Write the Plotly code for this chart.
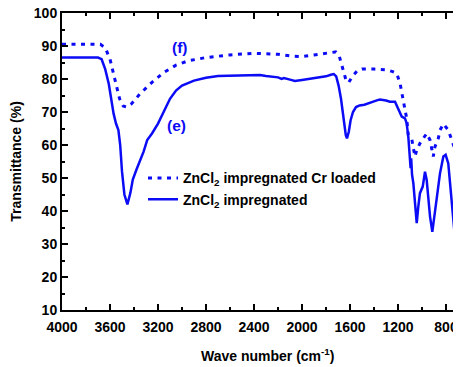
import plotly.graph_objects as go

# Dotted curve (f): ZnCl2 impregnated Cr loaded
wn_f = [4000, 3800, 3680, 3640, 3600, 3560, 3520, 3490, 3460, 3420, 3350, 3250, 3150, 3050, 2950,
        2800, 2600, 2400, 2300, 2200, 2100, 2000, 1900, 1800, 1720, 1690, 1660, 1630, 1610, 1580,
        1540, 1500, 1400, 1300, 1250, 1211, 1183, 1169, 1156, 1142, 1128, 1114, 1086, 1072, 1058,
        1044, 1017, 989, 961, 933, 919, 906, 892, 864, 850, 822, 781, 753, 725, 697, 675]
t_f = [90.5, 90.5, 90.5, 89.5, 86, 80, 74, 71.8, 71.5, 72.5, 75.5, 79, 82, 84.2, 85.5,
       86.5, 87.3, 87.8, 87.7, 87.5, 87, 86.8, 87.3, 87.8, 88.2, 87, 83, 79.2, 79, 80.8,
       82.5, 83, 83, 82.8, 82.3, 81.7, 78.7, 76.2, 73.6, 71.1, 68.1, 63, 62, 59, 56.5,
       58.5, 60.5, 62, 63.5, 61.5, 58.5, 56.5, 59.5, 62, 64.5, 66.4, 64.5, 61.5, 58.7, 59, 60]

# Solid curve (e): ZnCl2 impregnated
wn_e = [4000, 3800, 3700, 3670, 3640, 3610, 3590, 3570, 3550, 3530, 3515, 3500, 3480, 3455, 3430,
        3410, 3380, 3350, 3320, 3290, 3250, 3200, 3150, 3100, 3050, 3000, 2900, 2800, 2700, 2600,
        2500, 2400, 2350, 2300, 2250, 2200, 2170, 2150, 2100, 2060, 2000, 1950, 1900, 1850, 1800,
        1760, 1735, 1715, 1695, 1675, 1655, 1635, 1625, 1610, 1595, 1575, 1550, 1520, 1480, 1440,
        1400, 1370, 1350, 1300, 1267, 1225, 1197, 1169, 1142, 1128, 1114, 1100, 1095, 1090, 1083,
        1072, 1058, 1044, 1031, 1017, 994, 975, 961, 947, 933, 914, 897, 878, 850, 822, 803, 781,
        761, 744, 725, 706, 683, 675]
t_e = [86.5, 86.5, 86.5, 86, 83, 78.5, 74, 69.5, 66.5, 64.5, 60, 52, 45, 42, 45.5,
       49.5, 52.5, 55, 58, 61.5, 63.5, 66.5, 70.5, 74, 76.5, 78, 79.5, 80.4, 80.9, 81,
       81, 81.2, 81.2, 80.9, 80.6, 80.5, 80, 80.3, 79.8, 79.4, 79.7, 80, 80.2, 80.4, 80.8,
       81.3, 81.5, 80.8, 78, 74, 68, 63, 62, 64, 67.5, 70, 71.5, 72, 72.2, 72.6,
       73.2, 73.6, 73.8, 73.5, 73.1, 73.1, 71.1, 68.6, 68.1, 66.6, 62.5, 54.4, 53, 56, 51,
       48.4, 41.3, 36.3, 41.3, 45.4, 47.4, 51.9, 49.4, 44.3, 38.3, 33.7, 38.3, 44.3, 51.4, 56.5, 57, 54.4,
       46.4, 38.3, 31.7, 36.3, 42.3, 44]

x_ticks = [4000, 3600, 3200, 2800, 2400, 2000, 1600, 1200, 800]
names = ["ZnCl<sub>2</sub> impregnated Cr loaded", "ZnCl<sub>2</sub> impregnated"]
labels = ["(f)", "(e)"]
label_pos = [(3017, 89.4), (3050, 66.0)]

blue = "#0b0bf5"
font_family = "Arial, Liberation Sans, sans-serif"

fig = go.Figure()
fig.add_trace(go.Scatter(x=wn_f, y=t_f, mode="lines", name=names[0],
                         line=dict(color=blue, width=3, dash="4px,5.5px")))
fig.add_trace(go.Scatter(x=wn_e, y=t_e, mode="lines", name=names[1],
                         line=dict(color=blue, width=2.5)))

for lab, (lx, ly) in zip(labels, label_pos):
    fig.add_annotation(x=lx, y=ly, text=lab, showarrow=False,
                       font=dict(family=font_family, size=15.5, color=blue, weight="bold"))

fig.add_annotation(xref="paper", yref="paper", x=0.514, y=-0.152, yanchor="middle",
                   text="Wave number (cm<sup>-1</sup>)", showarrow=False,
                   font=dict(family=font_family, size=14, color="black", weight="bold"))

axis_common = dict(showline=True, linecolor="black", linewidth=2, ticks="inside",
                   ticklen=6, tickwidth=2, tickcolor="black", showgrid=False, zeroline=False,
                   ticklabeloverflow="allow",
                   tickfont=dict(family=font_family, size=14, color="black", weight="bold"))

# Page has an 8px body margin, so the figure is 8px smaller than the window
fig.update_layout(
    width=453, height=359,
    margin=dict(l=54, r=0, t=5, b=57, autoexpand=False),
    paper_bgcolor="white", plot_bgcolor="white",
    font=dict(family=font_family, size=14, color="black", weight="bold"),
    xaxis=dict(range=[4000, 675], tickvals=x_ticks, mirror="ticks", ticklabelstandoff=3,
               minor=dict(ticks="inside", ticklen=3, tickwidth=1.5, dtick=200, tick0=0, tickcolor="black"),
               **axis_common),
    yaxis=dict(range=[10, 100], dtick=10, tick0=0,
               minor=dict(ticks="inside", ticklen=3, tickwidth=1.5, dtick=5, tick0=0, tickcolor="black"),
               title=dict(text="Transmittance (%)", standoff=14,
                          font=dict(family=font_family, size=14, color="black", weight="bold")),
               **axis_common),
    legend=dict(x=0.203, y=0.497, xanchor="left", yanchor="top", bgcolor="rgba(0,0,0,0)",
                font=dict(family=font_family, size=14, color="black", weight="bold"),
                tracegroupgap=0, itemwidth=30),
    showlegend=True,
)

fig.write_html("out.html")
